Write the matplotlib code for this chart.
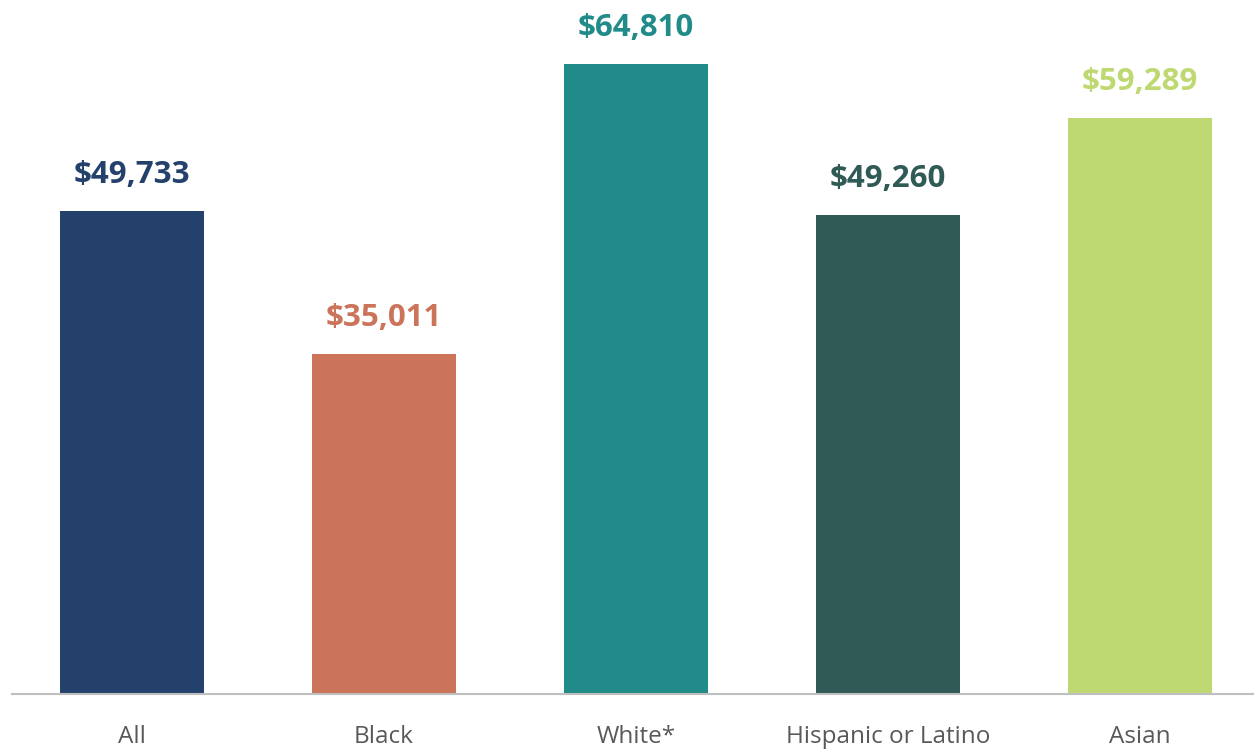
import matplotlib.pyplot as plt

categories = ["All", "Black", "White*", "Hispanic or Latino", "Asian"]
values = [49733, 35011, 64810, 49260, 59289]
colors = ["#24416b", "#cb7459", "#218b89", "#2f5a56", "#bfd972"]

plt.rcParams['font.family'] = ['Open Sans', 'DejaVu Sans']

fig = plt.figure(figsize=(12.54, 7.49), dpi=100)
ax = fig.add_axes([12 / 1254, 1 - 694 / 749, 1 - 12 / 1254, 694 / 749])

x = range(len(categories))
ax.bar(x, values, width=0.57, color=colors, zorder=2)
for xi, v, c in zip(x, values, colors):
    ax.annotate("${:,}".format(v), (xi, v), xytext=(0, 15), textcoords="offset points",
                ha="center", va="bottom", fontsize=22.5, fontweight="bold", color=c)

ax.set_xlim(-0.476, 4.452)
ax.set_ylim(0, 71390)
ax.set_xticks(list(x))
ax.set_xticklabels(categories, fontsize=17.5, color="#595959")
ax.tick_params(axis="x", length=0, pad=22)
ax.set_yticks([])
for s in ["top", "right", "left"]:
    ax.spines[s].set_visible(False)
ax.spines["bottom"].set_color("#bfbfbf")
ax.spines["bottom"].set_linewidth(1.5)

fig.savefig("out.png", dpi=100)
